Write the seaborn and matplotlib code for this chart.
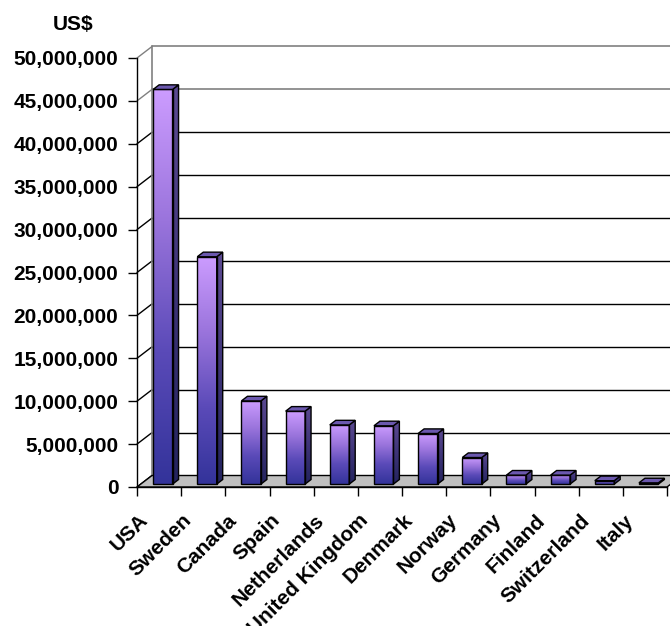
import numpy as np
import seaborn as sns
import matplotlib.pyplot as plt
from matplotlib.colors import LinearSegmentedColormap
from matplotlib.patches import Polygon
from matplotlib.ticker import FuncFormatter
from matplotlib.transforms import ScaledTranslation

countries = ['USA', 'Sweden', 'Canada', 'Spain', 'Netherlands', 'United Kingdom',
             'Denmark', 'Norway', 'Germany', 'Finland', 'Switzerland', 'Italy']
amounts = [46.0e6, 26.5e6, 9.7e6, 8.5e6, 6.9e6, 6.8e6,
           5.9e6, 3.1e6, 1.05e6, 1.05e6, 0.4e6, 0.15e6]
y_ticks = list(range(0, 50_000_001, 5_000_000))

sns.set_style('white')
plt.rcParams['font.family'] = ['Liberation Sans', 'DejaVu Sans']
plt.rcParams['font.weight'] = 'bold'
plt.rcParams['text.color'] = 'black'
plt.rcParams['xtick.color'] = 'black'
plt.rcParams['ytick.color'] = 'black'

W, H = 670, 626
fig = plt.figure(figsize=(W / 100, H / 100), dpi=100)
ax = fig.add_axes([137 / W, 1 - 487 / H, 530 / W, 429 / H])

sns.barplot(x=countries, y=amounts, width=0.44, color='white', edgecolor='black',
            linewidth=1, ax=ax, zorder=5)
ax.set_xlim(-0.5, 11.5)
ax.set_ylim(0, 50e6)

# depth of the fake 3D box, in data units
DX = 15 / (530 / 12)
DY = 11.5 * 50e6 / 429
F, B = 0.25, 0.65  # bar front / back depth fraction

front_cmap = LinearSegmentedColormap.from_list('front', ['#33339a', '#5a4ab8', '#9a74dc', '#cc9cff'])
side_cmap = LinearSegmentedColormap.from_list('side', ['#23235e', '#3e3478', '#5c4a92'])
grad = np.linspace(0, 1, 256).reshape(-1, 1)

# walls and floor
for g in y_ticks:
    c = '#808080' if g >= 45e6 else 'black'
    ax.plot([-0.5, -0.5 + DX], [g, g + DY], color=c, lw=1, clip_on=False, zorder=1)
    if g > 0:
        ax.plot([-0.5 + DX, 11.5 + DX], [g + DY, g + DY], color=c, lw=1.2 if g >= 45e6 else 1,
                clip_on=False, zorder=1)
ax.plot([-0.5 + DX, -0.5 + DX], [DY, 50e6 + DY], color='#808080', lw=1.2, clip_on=False, zorder=1)
floor = Polygon([(-0.5, 0), (11.5, 0), (11.5 + DX, DY), (-0.5 + DX, DY)], closed=True,
                facecolor='#c0c0c0', edgecolor='black', lw=1, clip_on=False, zorder=2)

# turn the flat seaborn bars into shaded boxes
for p in list(ax.patches):
    x0, w, h = p.get_x(), p.get_width(), p.get_height()
    if h <= 0:
        continue
    x0f, y0f = x0 + F * DX, F * DY
    p.set_xy((x0f, y0f))
    p.set_facecolor('none')
    p.set_zorder(5)
    ax.imshow(grad, cmap=front_cmap, origin='lower', aspect='auto',
              extent=(x0f, x0f + w, y0f, y0f + h), zorder=4, clip_on=False)
    x1 = x0 + w
    side = Polygon([(x1 + F * DX, F * DY), (x1 + F * DX, h + F * DY),
                    (x1 + B * DX, h + B * DY), (x1 + B * DX, B * DY)], closed=True,
                   facecolor='none', edgecolor='black', lw=1, zorder=5, clip_on=False)
    ax.add_patch(side)
    sim = ax.imshow(grad, cmap=side_cmap, origin='lower', aspect='auto',
                    extent=(x1 + F * DX, x1 + B * DX, F * DY, h + B * DY), zorder=4)
    sim.set_clip_path(side)
    top = Polygon([(x0 + F * DX, h + F * DY), (x1 + F * DX, h + F * DY),
                   (x1 + B * DX, h + B * DY), (x0 + B * DX, h + B * DY)], closed=True,
                  facecolor='#6b58ae', edgecolor='black', lw=1, zorder=5, clip_on=False)
    ax.add_patch(top)
ax.add_patch(floor)
ax.set_xlim(-0.5, 11.5)
ax.set_ylim(0, 50e6)

for s in ['top', 'right']:
    ax.spines[s].set_visible(False)
for s in ['left', 'bottom']:
    ax.spines[s].set_color('black')
    ax.spines[s].set_linewidth(1)
    ax.spines[s].set_zorder(3)

ax.set_yticks(y_ticks)
ax.yaxis.set_major_formatter(FuncFormatter(lambda v, _: f'{int(v):,}'))
ax.tick_params(axis='y', direction='out', length=6.5, width=1, color='black', pad=7,
               labelsize=15, labelcolor='black', left=True)
ax.set_xticks(np.arange(-0.5, 12, 1), minor=True)
ax.tick_params(axis='x', which='minor', direction='out', length=6.5, width=1, color='black', bottom=True)
ax.tick_params(axis='x', which='major', length=0, pad=17, labelsize=15, labelcolor='black')
ax.set_xticks(range(len(countries)))
ax.set_xticklabels(countries, rotation=45, ha='right', va='top', rotation_mode='anchor')
shift = ScaledTranslation(-0.21, 0, fig.dpi_scale_trans)
for lbl in ax.get_xticklabels():
    lbl.set_transform(lbl.get_transform() + shift)
for lbl in ax.get_xticklabels() + ax.get_yticklabels():
    lbl.set_fontweight('bold')
ax.set_xlabel('')
ax.set_ylabel('')

fig.text(73 / W, 1 - 24 / H, 'US$', ha='center', va='center', fontsize=15,
         fontweight='bold', color='black')

fig.savefig('out.png', dpi=100)
